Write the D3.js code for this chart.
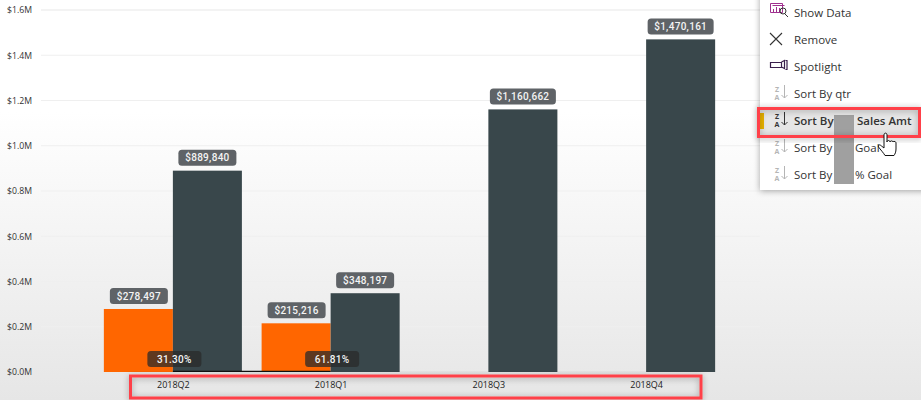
<!DOCTYPE html>
<html>
<head>
<meta charset="utf-8">
<script src="https://cdn.jsdelivr.net/npm/d3@7"></script>
<style>
  html, body { margin: 0; padding: 0; background: #fff; }
  svg { display: block; }
  text { font-family: "Open Sans", "Noto Sans", sans-serif; }
</style>
</head>
<body>
<div id="chart"></div>
<script>
const quarters = ["2018Q2", "2018Q1", "2018Q3", "2018Q4"];
const salesAmt = [278497, 215216, null, null];
const goalAmt = [889840, 348197, 1160662, 1470161];
const pctGoal = [0.313, 0.6181, null, null];
const yTicks = [0, 200000, 400000, 600000, 800000, 1000000, 1200000, 1400000, 1600000];
const menuItems = ["Show Data", "Remove", "Spotlight", "Sort By qtr", "Sort By", "Sort By", "Sort By"];
const menuExtra = ["", "", "", "", "Sales Amt", "Goal", "% Goal"];

const width = 921, height = 400;
const svg = d3.select("#chart").append("svg").attr("width", width).attr("height", height);
const defs = svg.append("defs");

// page background fades to grey at the bottom
const bg = defs.append("linearGradient").attr("id", "bg").attr("x1", 0).attr("x2", 0).attr("y1", 0).attr("y2", 1);
bg.append("stop").attr("offset", "0").attr("stop-color", "#ffffff");
bg.append("stop").attr("offset", "0.28").attr("stop-color", "#ffffff");
bg.append("stop").attr("offset", "1").attr("stop-color", "#e6e6e6");
svg.append("rect").attr("width", width).attr("height", height).attr("fill", "url(#bg)");

const shadow = defs.append("filter").attr("id", "shadow").attr("x", "-20%").attr("y", "-20%").attr("width", "140%").attr("height", "140%");
shadow.append("feDropShadow").attr("dx", 0).attr("dy", 1).attr("stdDeviation", 3).attr("flood-color", "#000").attr("flood-opacity", 0.35);

const y = d3.scaleLinear().domain([0, 1600000]).range([372, 10]);
const x = d3.scaleBand().domain(quarters).range([94, 725]).paddingInner(0.125).paddingOuter(0.0625);
const sub = d3.scaleBand().domain(["sales", "goal"]).range([0, x.bandwidth()]);

// y axis
const yAxis = d3.axisLeft(y).tickValues(yTicks).tickSize(0).tickPadding(9)
  .tickFormat(d => "$" + (d / 1000000).toFixed(1) + "M");
const yG = svg.append("g").attr("transform", "translate(41,0)").call(yAxis);
yG.select(".domain").remove();
yG.selectAll("text").attr("font-size", 8.7).attr("fill", "#333");
svg.append("g").selectAll("line").data(yTicks.slice(1)).join("line")
  .attr("x1", 41).attr("x2", 760)
  .attr("y1", d => y(d)).attr("y2", d => y(d))
  .attr("stroke", d => d === 1600000 ? "#f3f3f3" : "#efefef")
  .attr("stroke-width", d => d === 1600000 ? 2 : 1.2);

// x axis
const xAxis = d3.axisBottom(x).tickSize(0).tickPadding(9);
const xG = svg.append("g").attr("transform", "translate(0.5,377)").call(xAxis);
xG.select(".domain").remove();
xG.selectAll("text").attr("font-size", 9).attr("fill", "#222").attr("dy", "0.2em");

// bars
const groups = svg.append("g").selectAll("g").data(quarters).join("g")
  .attr("transform", d => `translate(${x(d)},0)`);
groups.append("rect")
  .filter((d, i) => salesAmt[i] != null)
  .attr("x", sub("sales")).attr("width", sub.bandwidth())
  .attr("y", d => y(salesAmt[quarters.indexOf(d)]))
  .attr("height", d => y(0) - y(salesAmt[quarters.indexOf(d)]))
  .attr("fill", "#ff6600");
groups.append("rect")
  .attr("x", sub("goal")).attr("width", sub.bandwidth())
  .attr("y", d => y(goalAmt[quarters.indexOf(d)]))
  .attr("height", d => y(0) - y(goalAmt[quarters.indexOf(d)]))
  .attr("fill", "#39474b");

// % goal line, on the same scale so it sits on the baseline
const center = d => x(d) + x.bandwidth() / 2;
const linePts = quarters.map((q, i) => ({ q, v: pctGoal[i] })).filter(d => d.v != null);
svg.append("path").datum(linePts)
  .attr("d", d3.line().x(d => center(d.q)).y(d => y(d.v) - 0.7))
  .attr("fill", "none").attr("stroke", "#111").attr("stroke-width", 1.3);

// value pills
function pill(cx, cy, w, h, label, fill, opacity) {
  svg.append("rect").attr("x", cx - w / 2).attr("y", cy - h / 2).attr("width", w).attr("height", h)
    .attr("rx", 3.5).attr("fill", fill).attr("fill-opacity", opacity);
  svg.append("text").attr("x", cx).attr("y", cy).attr("dy", "0.36em").attr("text-anchor", "middle")
    .attr("font-size", 10).attr("font-weight", 500).attr("letter-spacing", 0.3)
    .style("font-family", "Roboto, sans-serif").attr("fill", "#f4f4f4").text(label);
}
const money = d3.format("$,");
quarters.forEach((q, i) => {
  if (salesAmt[i] != null) pill(x(q) + sub("sales") + sub.bandwidth() / 2 + 0.5, y(salesAmt[i]) - 13, 58, 16, money(salesAmt[i]), "#5f6367", 1);
  pill(x(q) + sub("goal") + sub.bandwidth() / 2, y(goalAmt[i]) - 13, i > 1 ? 66 : 58, 16, money(goalAmt[i]), "#5f6367", 1);
  if (pctGoal[i] != null) pill(center(q) + 1.5, 359, 54, 16, (pctGoal[i] * 100).toFixed(2) + "%", "#2a2a2a", 0.75);
});

// red box round the x axis labels
svg.append("rect").attr("x", 130.500).attr("y", 376).attr("width", 570.5).attr("height", 22)
  .attr("fill", "none").attr("stroke", "#ff4048").attr("stroke-width", 3).attr("filter", "url(#shadow)");

// context menu
const menu = svg.append("g");
menu.append("rect").attr("x", 760).attr("y", -10).attr("width", 175).attr("height", 200)
  .attr("fill", "#fff").attr("filter", "url(#shadow)");
const rowY = d3.scalePoint().domain(d3.range(menuItems.length)).range([13, 175]);
menu.append("rect").attr("x", 760).attr("y", 109).attr("width", 161).attr("height", 27).attr("fill", "#e6e6e6");
menu.append("rect").attr("x", 760).attr("y", 113).attr("width", 4).attr("height", 16).attr("fill", "#e8b200");

menuItems.forEach((t, i) => {
  menu.append("text").attr("x", 794).attr("y", rowY(i)).attr("dy", "0.36em")
    .attr("font-size", 11.5).attr("font-weight", i === 4 ? 600 : 400).attr("fill", "#333").text(t);
  if (menuExtra[i]) menu.append("text").attr("x", i === 4 ? 857 : 855).attr("y", rowY(i)).attr("dy", "0.36em")
    .attr("font-size", 11.5).attr("font-weight", i === 4 ? 600 : 400).attr("fill", "#333").text(menuExtra[i]);
});

// menu icons
function icon(d, col, sw) {
  menu.append("path").attr("d", d).attr("fill", "none").attr("stroke", col || "#333").attr("stroke-width", sw || 1);
}
icon("M770.5 3.5h12v9h-12zM772.5 5.5h12M773.5 9v3M776.5 7v5M779.5 8v4", "#a0308f");
icon("M780 11a3 3 0 1 0 6 0a3 3 0 1 0 -6 0M785 14l3 3", "#333");
icon("M770 33l12 12M782 33l-12 12", "#333", 1.1);
icon("M770.5 62.5h11v5h-11zM781.500 62l3 -1.500v8l-3 -1.500M785.500 60.500h1.500v9h-1.500", "#3a1f4c", 1.2);

[3, 4, 5, 6].forEach(i => {
  const col = i === 4 ? "#333" : "#b5b5b5";
  const cy = rowY(i);
  menu.append("text").attr("x", 777).attr("y", cy - 2).attr("text-anchor", "middle")
    .attr("font-size", 7).attr("font-weight", 700).attr("fill", col).text("Z");
  menu.append("text").attr("x", 777).attr("y", cy + 5.5).attr("text-anchor", "middle")
    .attr("font-size", 7).attr("font-weight", 700).attr("fill", col).text("A");
  icon(`M784.5 ${cy - 9}v13M781.5 ${cy + 1}l3 3l3 -3`, col);
});

// grey block hiding part of the labels
menu.append("rect").attr("x", 834).attr("y", 115).attr("width", 20).attr("height", 69).attr("fill", "#a0a0a0");

// red box round the sort row
menu.append("rect").attr("x", 758.5).attr("y", 108.5).attr("width", 161).attr("height", 28)
  .attr("fill", "none").attr("stroke", "#ff4048").attr("stroke-width", 3).attr("filter", "url(#shadow)");

// hand cursor
menu.append("path")
  .attr("d", "M884 135c0-2.500 3-2.500 3 0v7c0-2 3-2 3 0c0-1.500 3-1.500 3 0c0-1 3-1 3 1v6c0 3-1 5-2 6.500h-9c-1-2-5-6.500-6.500-8.500c-1-2 1-3 3-1l2.500 2z")
  .attr("fill", "#fff").attr("stroke", "#111").attr("stroke-width", 1);
</script>
</body>
</html>
